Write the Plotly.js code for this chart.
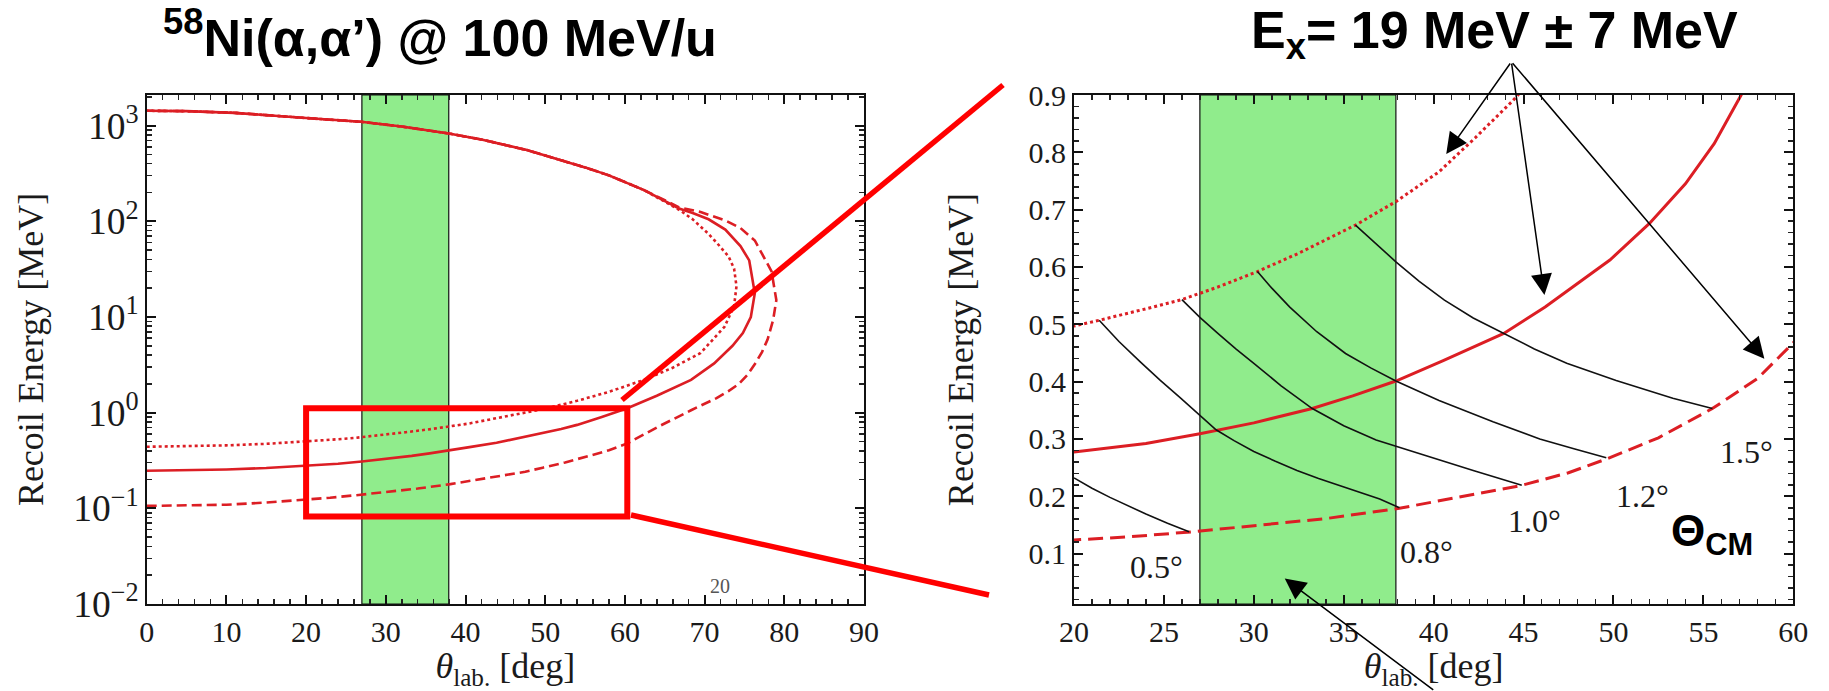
<!DOCTYPE html>
<html><head><meta charset="utf-8">
<script src="https://cdn.plot.ly/plotly-3.0.1.min.js"></script>
<style>html,body{margin:0;padding:0;background:#fff;}#chart{width:1829px;height:691px;}</style>
</head><body><div id="chart"></div>
<script>
// ---------- data ----------
// common upper (fast) branch, theta ascending
const upperTheta  = [0, 5, 11, 15, 20, 26.9, 32, 37.9, 42, 47.7, 51, 55, 58, 62.4];
const upperEnergy = [1430, 1416, 1360, 1290, 1200, 1096, 977, 828, 716, 555, 462, 366, 302, 212];

// Ex = 26 MeV (dotted)
const dottedLowTheta  = [0, 5, 10, 15, 20, 21.4, 24, 26, 28, 30.2, 32.5, 35.65, 37.9, 40.3, 42.3, 44.4, 47, 50, 54, 58, 62.4, 66, 69.5, 72.5, 73.7, 74.0];
const dottedLowEnergy = [0.44, 0.445, 0.455, 0.472, 0.497, 0.507, 0.527, 0.543, 0.565, 0.592, 0.624, 0.673, 0.714, 0.766, 0.825, 0.89, 0.98, 1.1, 1.33, 1.65, 2.2, 2.95, 4.2, 7.9, 13, 21];
const dottedNoseTheta  = [73.7, 73.0, 71.5, 70.4, 68.5, 66.8];
const dottedNoseEnergy = [32, 43, 60, 75, 105, 132];

// Ex = 19 MeV (solid)
const solidLowTheta  = [0, 5, 10, 15, 20, 24, 27, 30, 33.25, 35.5, 37.9, 40.5, 43.9, 46.2, 49.8, 52, 54, 55.6, 57.1, 60.3, 64, 68.3, 71.2, 73.5, 74.8, 75.8, 76.3];
const solidLowEnergy = [0.247, 0.25, 0.255, 0.264, 0.277, 0.292, 0.309, 0.328, 0.353, 0.375, 0.401, 0.436, 0.484, 0.530, 0.612, 0.676, 0.745, 0.815, 0.9, 1.11, 1.5, 2.2, 3.27, 5.0, 6.8, 10, 17.7];
const solidNoseTheta  = [75.6, 74.5, 72.6, 70.5, 68.5, 66.8];
const solidNoseEnergy = [39, 55, 82, 105, 122, 136];

// Ex = 12 MeV (dashed)
const dashedLowTheta  = [0, 5, 10, 15, 20, 23, 26.6, 30, 34, 38.1, 40.3, 42.5, 44.9, 47.5, 49.7, 52.5, 55.5, 58, 60.3, 64, 68.3, 71.5, 73.0, 74.3, 75.4, 76.4, 77.2, 77.9, 78.6, 79.0];
const dashedLowEnergy = [0.106, 0.107, 0.109, 0.115, 0.123, 0.129, 0.138, 0.148, 0.161, 0.179, 0.192, 0.204, 0.219, 0.241, 0.266, 0.302, 0.353, 0.405, 0.477, 0.7, 1.06, 1.42, 1.68, 2.0, 2.5, 3.3, 4.3, 5.8, 9.3, 15];
const dashedNoseTheta  = [78.4, 77.3, 76.3, 74.5, 72.6, 69.5, 66.8];
const dashedNoseEnergy = [30, 45, 63, 85, 102, 125, 140];

// iso-Theta_CM lines (right panel)
const cmLabels = ['0.5°', '0.8°', '1.0°', '1.2°', '1.5°'];
const cm05Theta  = [20.0, 21.0, 22.0, 23.0, 24.0, 25.2, 26.4];
const cm05Energy = [0.232, 0.214, 0.198, 0.183, 0.169, 0.153, 0.138];
const cm08Theta  = [21.4, 22.5, 23.7, 24.8, 25.9, 27.0, 27.9, 28.9, 30.0, 31.2, 32.4, 33.6, 34.8, 36.0, 37.0, 38.1];
const cm08Energy = [0.507, 0.470, 0.434, 0.402, 0.372, 0.342, 0.316, 0.297, 0.278, 0.261, 0.245, 0.231, 0.218, 0.205, 0.195, 0.180];
const cm10Theta  = [26.0, 27.0, 28.0, 29.0, 30.0, 31.5, 33.25, 35.0, 36.8, 38.0, 40.3, 42.2, 44.9];
const cm10Energy = [0.543, 0.512, 0.484, 0.457, 0.432, 0.393, 0.353, 0.323, 0.298, 0.286, 0.263, 0.245, 0.219];
const cm12Theta  = [30.2, 31.0, 32.0, 33.5, 35.1, 36.5, 37.9, 40.3, 43.3, 45.9, 47.8, 49.6];
const cm12Energy = [0.592, 0.563, 0.530, 0.487, 0.449, 0.424, 0.401, 0.367, 0.330, 0.300, 0.283, 0.267];
const cm15Theta  = [35.65, 36.8, 37.9, 39.2, 40.6, 42.2, 43.9, 45.6, 47.4, 50.15, 53.3, 55.5];
const cm15Energy = [0.673, 0.640, 0.609, 0.575, 0.542, 0.511, 0.484, 0.457, 0.432, 0.402, 0.371, 0.353];
// label anchor points (theta, energy) for the CM labels
const cmLabelTheta  = [24.6, 39.6, 45.6, 51.6, 57.4];
const cmLabelEnergy = [0.077, 0.102, 0.157, 0.200, 0.277];

// detector acceptance band and zoom window
const bandTheta = [27.0, 37.9];
const zoomTheta = [20.0, 60.3];
const zoomEnergy = [0.082, 1.11];

// tick labels
const leftYTickVals = [0.01, 0.1, 1, 10, 100, 1000];
const leftYTickText = ['10<sup>−2</sup>', '10<sup>−1</sup>', '10<sup>0</sup>', '10<sup>1</sup>', '10<sup>2</sup>', '10<sup>3</sup>'];

// ---------- build ----------
const W = 1829, H = 691;
const px = v => v / W, py = v => 1 - v / H;
const revUpperT = upperTheta.slice().reverse();
const revUpperE = upperEnergy.slice().reverse();
function loop(lt, le, nt, ne) {
  return { x: lt.concat(nt, revUpperT), y: le.concat(ne, revUpperE) };
}
const dottedLoop = loop(dottedLowTheta, dottedLowEnergy, dottedNoseTheta, dottedNoseEnergy);
const solidLoop  = loop(solidLowTheta, solidLowEnergy, solidNoseTheta, solidNoseEnergy);
const dashedLoop = loop(dashedLowTheta, dashedLowEnergy, dashedNoseTheta, dashedNoseEnergy);

const RED = 'rgb(220,30,36)';
const serif = "'Liberation Serif', 'DejaVu Serif', serif";
const sans = "'Liberation Sans', Arial, sans-serif";

const traces = [];
[[dottedLoop, 'dot', 'dot', 'Ex = 26 MeV'], [solidLoop, 'solid', 'solid', 'Ex = 19 MeV'], [dashedLoop, '10px,5px', '15px,7px', 'Ex = 12 MeV']].forEach(([d, dashL, dashR, name]) => {
  traces.push({ x: d.x, y: d.y, xaxis: 'x', yaxis: 'y', mode: 'lines', name: name,
    line: { color: RED, width: 2.6, dash: dashL } });
  traces.push({ x: d.x, y: d.y, xaxis: 'x2', yaxis: 'y2', mode: 'lines', name: name,
    line: { color: RED, width: 3, dash: dashR } });
});
[[cm05Theta, cm05Energy], [cm08Theta, cm08Energy], [cm10Theta, cm10Energy], [cm12Theta, cm12Energy], [cm15Theta, cm15Energy]].forEach(([t, e], i) => {
  traces.push({ x: t, y: e, xaxis: 'x2', yaxis: 'y2', mode: 'lines', name: cmLabels[i],
    line: { color: '#111', width: 1.6 } });
});

const tickFont = { family: serif, size: 30, color: '#1a1a1a' };
const minorCommon = { ticks: 'inside', ticklen: 5, tickwidth: 1.6, tickcolor: '#222', showgrid: false };
const axisCommon = {
  showline: true, linecolor: '#111', linewidth: 2, mirror: 'ticks',
  ticks: 'inside', ticklen: 9, tickwidth: 2, tickcolor: '#111',
  showgrid: false, zeroline: false, tickfont: tickFont, fixedrange: true
};
const titleFont = { family: serif, size: 36, color: '#1a1a1a' };
const yDom = [py(604), py(95)];

// labels shown on the log axis: Plotly writes 10^0 as "1" and 10^1 as "10"; alias them
const logAlias = {};
logAlias['1'] = leftYTickText[leftYTickVals.indexOf(1)];
logAlias['10'] = leftYTickText[leftYTickVals.indexOf(10)];

const layout = {
  width: W, height: H,
  margin: { l: 0, r: 0, t: 0, b: 0 },
  paper_bgcolor: '#fff', plot_bgcolor: '#fff',
  showlegend: false, hovermode: false,
  xaxis: Object.assign({}, axisCommon, {
    domain: [px(146.7), px(864)], range: [0, 90], anchor: 'y',
    tickmode: 'linear', tick0: 0, dtick: 10,
    minor: Object.assign({}, minorCommon, { tickmode: 'linear', tick0: 0, dtick: 2 }),
    title: { text: '<i>θ</i><sub>lab.</sub> [deg]', font: titleFont, standoff: 12 }
  }),
  yaxis: Object.assign({}, axisCommon, {
    domain: yDom, type: 'log', range: [-2, 3.32], anchor: 'x',
    tickmode: 'linear', tick0: 0, dtick: 1, exponentformat: 'power', labelalias: logAlias,
    minor: Object.assign({}, minorCommon, { dtick: 'D1' }),
    title: { text: 'Recoil Energy [MeV]', font: titleFont, standoff: 19 }
  }),
  xaxis2: Object.assign({}, axisCommon, {
    domain: [px(1074), px(1793.3)], range: [20, 60], anchor: 'y2',
    tickmode: 'linear', tick0: 20, dtick: 5,
    minor: Object.assign({}, minorCommon, { tickmode: 'linear', tick0: 20, dtick: 1 }),
    title: { text: '<i>θ</i><sub>lab.</sub> [deg]', font: titleFont, standoff: 12 }
  }),
  yaxis2: Object.assign({}, axisCommon, {
    domain: yDom, range: [0.012, 0.9], anchor: 'x2',
    tickmode: 'linear', tick0: 0, dtick: 0.1,
    minor: Object.assign({}, minorCommon, { tickmode: 'linear', tick0: 0, dtick: 0.02 }),
    title: { text: 'Recoil Energy [MeV]', font: titleFont, standoff: 44 }
  }),
  shapes: [
    { type: 'rect', layer: 'below', xref: 'x', yref: 'y domain', x0: bandTheta[0], x1: bandTheta[1], y0: 0, y1: 1,
      fillcolor: 'rgb(144,236,140)', line: { color: '#111', width: 1.2 } },
    { type: 'rect', layer: 'below', xref: 'x2', yref: 'y2 domain', x0: bandTheta[0], x1: bandTheta[1], y0: 0, y1: 1,
      fillcolor: 'rgb(144,236,140)', line: { color: '#111', width: 1.2 } },
    { type: 'rect', layer: 'above', xref: 'x', yref: 'y', x0: zoomTheta[0], x1: zoomTheta[1],
      y0: zoomEnergy[0], y1: zoomEnergy[1], line: { color: '#ff0000', width: 6 } },
    { type: 'line', layer: 'above', xref: 'paper', yref: 'paper', x0: px(622), y0: py(400), x1: px(1003), y1: py(85),
      line: { color: '#ff0000', width: 5.5 } },
    { type: 'line', layer: 'above', xref: 'paper', yref: 'paper', x0: px(631), y0: py(515), x1: px(989), y1: py(595),
      line: { color: '#ff0000', width: 5.5 } }
  ],
  annotations: [
    { xref: 'paper', yref: 'paper', x: px(440), y: py(34), xanchor: 'center', yanchor: 'middle', showarrow: false,
      text: '<b><sup>58</sup>Ni(α,α’) @ 100 MeV/u</b>', font: { family: sans, size: 52, color: '#000' } },
    { xref: 'paper', yref: 'paper', x: px(1494), y: py(34), xanchor: 'center', yanchor: 'middle', showarrow: false,
      text: '<b>E<sub>x</sub>= 19 MeV ± 7 MeV</b>', font: { family: sans, size: 52, color: '#000' } },
    { xref: 'x2', yref: 'y2', x: 53.06, y: 0.135, xanchor: 'left', yanchor: 'middle', showarrow: false,
      text: '<b>Θ<sub>CM</sub></b>', font: { family: sans, size: 44, color: '#000' } },
    { xref: 'paper', yref: 'paper', x: px(720), y: py(586), xanchor: 'center', yanchor: 'middle', showarrow: false,
      text: '20', font: { family: serif, size: 20, color: '#555' } }
  ]
};
cmLabels.forEach((t, i) => {
  layout.annotations.push({ xref: 'x2', yref: 'y2', x: cmLabelTheta[i], y: cmLabelEnergy[i], xanchor: 'center', yanchor: 'middle',
    showarrow: false, text: t, font: { family: serif, size: 32, color: '#1a1a1a' } });
});
// arrows from the Ex label to the three curves, and from below into the band
const arrowTips = [[40.7, 0.797, 65, -92], [46.16, 0.551, -33, -233], [58.39, 0.440, -253, -297], [31.72, 0.0563, 150, 117]];
arrowTips.forEach(([x, y, ax, ay]) => {
  layout.annotations.push({ xref: 'x2', yref: 'y2', x: x, y: y, ax: ax, ay: ay, text: '', showarrow: true,
    arrowhead: 2, arrowsize: 2.8, arrowwidth: 1.5, arrowcolor: '#000', standoff: 0 });
});

Plotly.newPlot('chart', traces, layout, { staticPlot: true, displayModeBar: false });
</script></body></html>
